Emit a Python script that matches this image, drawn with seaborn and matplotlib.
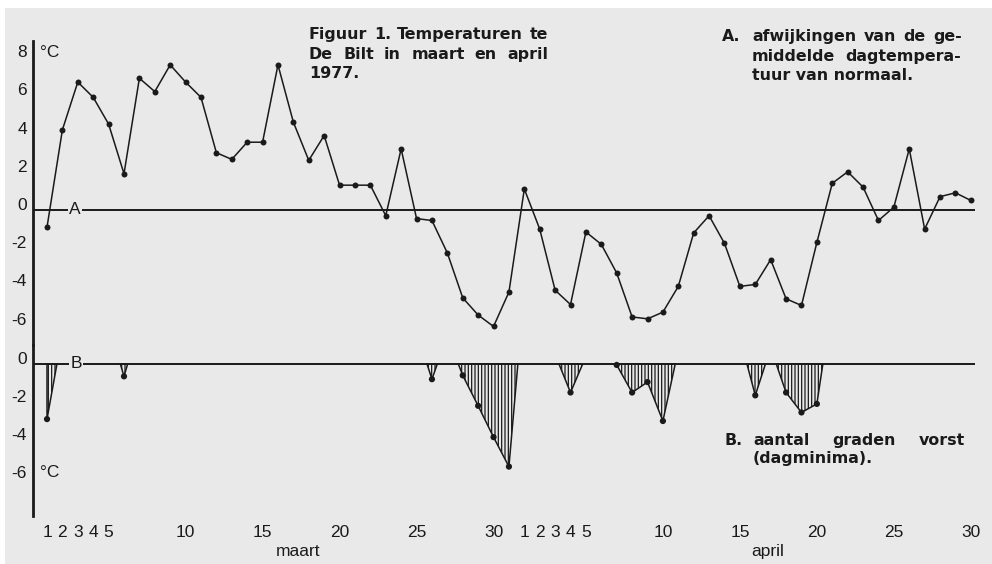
import numpy as np
import pandas as pd
import matplotlib
matplotlib.use("Agg")
import matplotlib.pyplot as plt
import seaborn as sns
from matplotlib.patches import Rectangle
from matplotlib.font_manager import FontProperties

# ---------------- data ----------------
maart_dagen = list(range(1, 32))
april_dagen = list(range(1, 31))
getoonde_dagen = [1, 2, 3, 4, 5, 10, 15, 20, 25, 30]

# A. afwijking van de gemiddelde dagtemperatuur van normaal (graden C)
afwijking_maart = [-0.9, 4.2, 6.7, 5.9, 4.5, 1.9, 6.9, 6.2, 7.6, 6.7,
                   5.9, 3.0, 2.65, 3.55, 3.55, 7.6, 4.6, 2.6, 3.9, 1.3,
                   1.3, 1.3, -0.3, 3.2, -0.45, -0.55, -2.25, -4.6, -5.5, -6.1,
                   -4.3]
afwijking_april = [1.1, -1.0, -4.2, -4.95, -1.15, -1.8, -3.3, -5.6, -5.7, -5.35,
                   -4.0, -1.2, -0.3, -1.75, -4.0, -3.9, -2.6, -4.65, -5.0, -1.7,
                   1.4, 2.0, 1.2, -0.55, 0.15, 3.2, -1.0, 0.7, 0.9, 0.5]

# B. dagminima (alleen het deel onder 0 is zichtbaar; positieve waarden geschat)
minimum_maart = [-2.9, 1.6, 3.5, 3.0, 2.1, -0.65, 2.1, 4.0, 5.5, 5.0,
                 4.5, 2.5, 1.5, 2.0, 3.0, 5.0, 3.5, 1.5, 2.5, 1.0,
                 1.5, 2.0, 1.0, 3.5, 1.7, -0.8, 1.5, -0.6, -2.2, -3.85,
                 -5.4]
minimum_april = [3.9, 2.0, 0.5, -1.5, 0.4, 1.0, -0.05, -1.5, -0.95, -3.0,
                 0.75, 2.0, 3.0, 1.5, 1.4, -1.65, 0.85, -1.5, -2.55, -2.1,
                 3.3, 5.0, 4.0, 2.0, 3.0, 5.0, 2.0, 1.5, 3.0, 4.0]

yticks_a = [8, 6, 4, 2, 0, -2, -4, -6]
yticks_b = [0, -2, -4, -6]

titel_regels = ["Figuur 1. Temperaturen te", "De Bilt in maart en april", "1977."]
tekst_a = ["afwijkingen van de ge-", "middelde dagtempera-", "tuur van normaal."]
tekst_b = ["aantal graden vorst", "(dagminima)."]

# ---------------- frame ----------------
n_dagen = len(maart_dagen) + len(april_dagen)
df = pd.DataFrame({
    "dag": np.arange(n_dagen),
    "afwijking": afwijking_maart + afwijking_april,
    "minimum": minimum_maart + minimum_april,
})
kalender = maart_dagen + april_dagen
tick_labels = [str(d) if d in getoonde_dagen else "" for d in kalender]

BG = "#e9e9e9"
INK = "#1a1a1a"

sns.set_style("white")
plt.rcParams["font.family"] = ["Liberation Sans Narrow", "Liberation Sans", "DejaVu Sans"]
plt.rcParams["hatch.linewidth"] = 0.9

W, H = 992, 564
fig = plt.figure(figsize=(W / 100, H / 100), dpi=100, facecolor=BG)

def fx(px):
    return px / W

def fy(py):
    return 1 - py / H

ax_a = fig.add_axes([fx(33), fy(345), fx(942), 304 / H])
ax_b = fig.add_axes([fx(33), fy(516), fx(942), 171 / H])

xlim = (-0.91, 60.27)
for ax in (ax_a, ax_b):
    ax.set_facecolor("none")
    ax.set_xlim(*xlim)
    for s in ("top", "right", "bottom"):
        ax.spines[s].set_visible(False)
    ax.spines["left"].set_linewidth(2.0)
    ax.spines["left"].set_color(INK)
    ax.tick_params(axis="y", direction="out", length=3, width=1.2, color=INK,
                   pad=1.5, labelsize=12.5, labelcolor=INK)

ax_a.set_ylim(-7.07, 8.85)
ax_b.set_ylim(-8.0, 1.0)

# ---- panel A ----
ax_a.axhline(0, color=INK, lw=1.4, zorder=1)
sns.lineplot(data=df, x="dag", y="afwijking", ax=ax_a, color=INK, lw=1.1,
             marker="o", markersize=4.3, markeredgewidth=0, zorder=3)
ax_a.set_yticks(yticks_a)
ax_a.set_yticklabels([str(v) for v in yticks_a])
ax_a.tick_params(axis="x", bottom=False, labelbottom=False)
ax_a.set_xlabel("")
ax_a.set_ylabel("")
ax_a.text(1.82, 0, "A", ha="center", va="center", fontsize=12.5, color=INK,
          bbox=dict(facecolor=BG, edgecolor="none", pad=1.0), zorder=4)
ax_a.text(-0.45, 8.0, "°C", ha="left", va="baseline", fontsize=12.5, color=INK)

# ---- panel B ----
ax_b.axhline(0, color=INK, lw=1.4, zorder=1)
ax_b.fill_between(df["dag"], df["minimum"], 0, where=df["minimum"] < 0,
                  interpolate=True, facecolor="none", edgecolor=INK,
                  hatch="|||||", linewidth=1.1, zorder=2)
sns.scatterplot(data=df[df["minimum"] < 0], x="dag", y="minimum", ax=ax_b,
                color=INK, s=20, edgecolor="none", zorder=3)
ax_b.set_yticks(yticks_b)
ax_b.set_yticklabels([str(v) for v in yticks_b])
ax_b.set_xticks(df["dag"])
ax_b.set_xticklabels(tick_labels)
ax_b.tick_params(axis="x", direction="out", length=1.8, width=1.0, color=INK,
                 pad=5, labelsize=12.5, labelcolor=INK)
ax_b.set_xlabel("")
ax_b.set_ylabel("")
ax_b.text(1.88, 0, "B", ha="center", va="center", fontsize=12.5, color=INK,
          bbox=dict(facecolor=BG, edgecolor="none", pad=1.0), zorder=4)
ax_b.text(-0.45, -5.95, "°C", ha="left", va="baseline", fontsize=12.5, color=INK)

tr = ax_b.get_xaxis_transform()
ax_b.text(16.3, -0.205, "maart", transform=tr, ha="center", va="center",
          fontsize=12.5, color=INK)
ax_b.text(46.8, -0.205, "april", transform=tr, ha="center", va="center",
          fontsize=12.5, color=INK)

for ax in (ax_a, ax_b):
    for lab in ax.get_yticklabels():
        lab.set_verticalalignment("baseline")

# ---- justified bold text blocks ----
bold = FontProperties(family=["DejaVu Sans"], weight="bold", size=11.4)
fig.canvas.draw()
renderer = fig.canvas.get_renderer()

def text_line(line, x0, x1, base, justify=True):
    words = line.split(" ")
    if not justify or len(words) == 1:
        fig.text(fx(x0), fy(base), line, fontproperties=bold, color=INK,
                 ha="left", va="baseline")
        return
    arts = [fig.text(0, 0, w, fontproperties=bold, color=INK, ha="left",
                     va="baseline") for w in words]
    widths = [a.get_window_extent(renderer).width for a in arts]
    gap = (x1 - x0 - sum(widths)) / (len(words) - 1)
    x = x0
    for a, w in zip(arts, widths):
        a.set_position((fx(x), fy(base)))
        x += w + gap

text_line(titel_regels[0], 309, 548, 39)
text_line(titel_regels[1], 309, 548, 59)
text_line(titel_regels[2], 309, 548, 78, justify=False)

fig.text(fx(722), fy(41), "A.", fontproperties=bold, color=INK, va="baseline")
text_line(tekst_a[0], 752, 962, 41)
text_line(tekst_a[1], 752, 961, 61)
text_line(tekst_a[2], 752, 961, 80, justify=False)

fig.text(fx(724), fy(445), "B.", fontproperties=bold, color=INK, va="baseline")
text_line(tekst_b[0], 753, 965, 445)
text_line(tekst_b[1], 753, 965, 463, justify=False)

# paper edges of the scan
fig.add_artist(Rectangle((0, fy(8)), 1, 8 / H, transform=fig.transFigure,
                         facecolor="white", edgecolor="none", zorder=0))
fig.add_artist(Rectangle((0, 0), fx(5), 1, transform=fig.transFigure,
                         facecolor="white", edgecolor="none", zorder=0))

fig.savefig("out.png", dpi=100, facecolor=BG)
